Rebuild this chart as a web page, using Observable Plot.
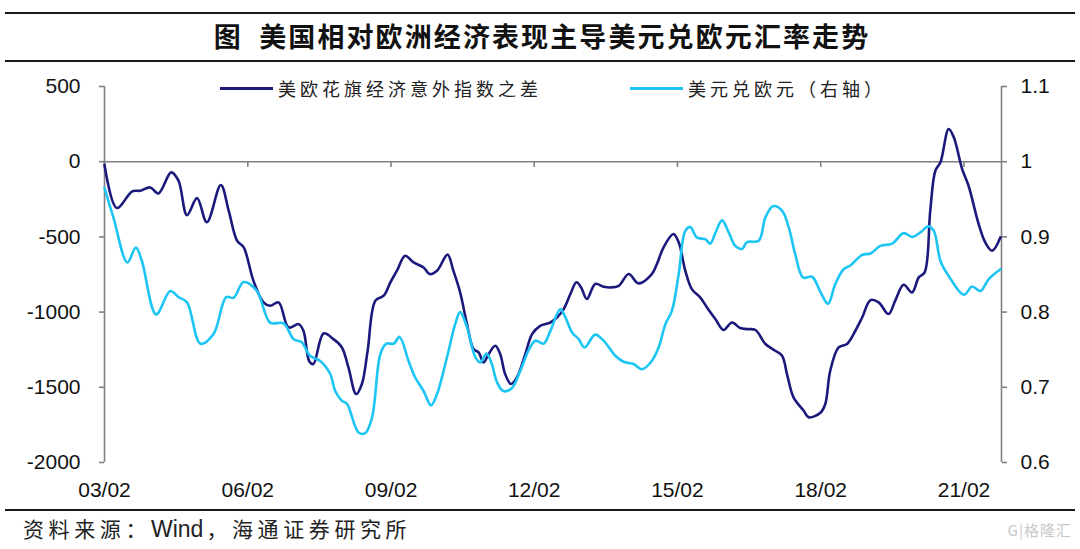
<!DOCTYPE html>
<html>
<head>
<meta charset="utf-8">
<script src="https://cdn.jsdelivr.net/npm/d3@7"></script>
<script src="https://cdn.jsdelivr.net/npm/@observablehq/plot@0.6"></script>
<style>
  html, body { margin: 0; padding: 0; background: #fff; }
  #page { position: relative; width: 1080px; height: 549px; overflow: hidden; font-family: "Noto Sans CJK SC", sans-serif; }
  .rule { position: absolute; left: 5px; right: 5px; height: 2px; background: #1a1a1a; }
  #title { position: absolute; top: 16px; left: 0; width: 1084px; text-align: center; font-weight: 700; font-size: 27px; line-height: 40px; letter-spacing: 2.1px; color: #111; white-space: pre; }
  .leg { position: absolute; top: 76px; height: 24px; display: flex; align-items: center; font-size: 18px; letter-spacing: 4px; color: #222; white-space: nowrap; }
  .leg i { display: inline-block; width: 53px; height: 3px; margin-right: 5px; }
  #chart { position: absolute; left: 0; top: 70px; }
  #source { position: absolute; left: 23px; top: 512px; font-size: 21px; letter-spacing: 4.6px; color: #222; line-height: 32px; white-space: nowrap; }
  #source .lat { font-family: "Liberation Sans", Arial, sans-serif; font-size: 23px; letter-spacing: 0; margin-right: 3px; }
  #mark { position: absolute; right: 8px; top: 519px; font-size: 15px; color: #c8c8c8; letter-spacing: 1px; }
</style>
</head>
<body>
<div id="page">
  <div class="rule" style="top:12px"></div>
  <div id="title">图  美国相对欧洲经济表现主导美元兑欧元汇率走势</div>
  <div class="rule" style="top:60px"></div>
  <div class="leg" style="left:220px"><i style="background:#1b1a7c"></i>美欧花旗经济意外指数之差</div>
  <div class="leg" style="left:630px"><i style="background:#1cc5f4"></i>美元兑欧元（右轴）</div>
  <div id="chart"></div>
  <div class="rule" style="top:509px"></div>
  <div id="source">资料来源：<span class="lat">Wind</span>，海通证券研究所</div>
  <div id="mark">G|格隆汇</div>
</div>
<script>
// 美欧花旗经济意外指数之差 (left axis)
const surpriseDates = [
  "2003-02-01","2003-05-06","2003-09-01","2003-11-01","2004-01-17","2004-03-20","2004-06-25","2004-08-20","2004-10-24",
  "2005-01-09","2005-03-25","2005-07-10","2005-09-08","2005-11-11","2006-01-01","2006-03-16","2006-06-01","2006-07-22",
  "2006-09-25","2006-12-10","2007-02-25","2007-04-03","2007-05-18","2007-06-18","2007-09-04","2007-11-19","2008-01-22",
  "2008-03-12","2008-05-10","2008-06-23","2008-08-06","2008-10-04","2008-12-07","2009-01-27","2009-03-18","2009-05-20",
  "2009-07-23","2009-10-08","2009-11-23","2010-01-19","2010-04-09","2010-05-24","2010-07-15","2010-09-05","2010-10-25",
  "2010-12-03","2011-01-10","2011-02-18","2011-04-09","2011-05-17","2011-06-24","2011-08-07","2011-09-22","2011-11-25",
  "2012-01-16","2012-03-18","2012-06-04","2012-07-24","2012-09-14","2012-11-04","2012-12-20","2013-01-25","2013-03-10",
  "2013-05-13","2013-07-16","2013-09-06","2013-11-09","2014-01-24","2014-04-09","2014-07-20","2014-08-28","2014-10-18",
  "2015-01-01","2015-02-11","2015-04-02","2015-05-22","2015-07-25","2015-09-15","2015-11-18","2016-01-20","2016-03-24",
  "2016-05-26","2016-07-17","2016-09-20","2016-12-05","2017-02-08","2017-04-11","2017-05-19","2017-07-08","2017-09-24",
  "2017-11-02","2018-02-01","2018-03-08","2018-04-15","2018-06-18","2018-08-21","2018-10-24","2018-12-15","2019-02-17",
  "2019-04-20","2019-07-05","2019-08-25","2019-10-28","2020-01-01","2020-02-21","2020-04-06","2020-05-19","2020-06-27",
  "2020-08-05","2020-10-07","2020-11-15","2021-01-18","2021-03-08","2021-05-24","2021-07-14","2021-09-05","2021-11-07"
];
const surpriseDiff = [
  -20,-308,-197,-193,-171,-211,-71,-126,-355,
  -242,-403,-155,-326,-525,-570,-791,-935,-958,
  -935,-1102,-1080,-1124,-1328,-1345,-1142,-1180,-1235,
  -1368,-1545,-1478,-1257,-924,-891,-802,-725,-625,
  -670,-703,-747,-725,-618,-725,-870,-1080,-1246,
  -1268,-1335,-1279,-1224,-1279,-1412,-1478,-1434,-1279,
  -1146,-1091,-1069,-1036,-980,-880,-802,-836,-913,
  -813,-831,-836,-825,-747,-809,-747,-680,-570,
  -481,-537,-725,-847,-902,-969,-1046,-1119,-1069,
  -1106,-1113,-1119,-1212,-1252,-1290,-1412,-1567,-1656,
  -1700,-1667,-1611,-1390,-1235,-1212,-1124,-1036,-920,
  -935,-1013,-924,-818,-869,-769,-736,-326,-60,
  -4,217,162,-49,-160,-414,-537,-592,-503
];

// 美元兑欧元 (right axis)
const fxDates = [
  "2003-02-01","2003-04-10","2003-07-26","2003-09-29","2003-11-14","2004-03-02","2004-06-18","2004-08-20","2004-10-24",
  "2005-02-04","2005-05-15","2005-08-20","2005-10-15","2006-01-01","2006-04-12","2006-07-22","2006-11-02","2007-01-18",
  "2007-03-21","2007-05-23","2007-08-09","2007-10-24","2007-12-02","2008-01-22","2008-03-01","2008-05-28","2008-07-18",
  "2008-09-09","2008-11-11","2008-12-27","2009-02-22","2009-04-07","2009-06-15","2009-08-05","2009-10-08","2009-12-04",
  "2010-01-19","2010-04-05","2010-06-07","2010-07-15","2010-09-05","2010-11-08","2010-12-16","2011-02-01","2011-03-14",
  "2011-04-22","2011-06-11","2011-08-15","2011-10-18","2011-12-20","2012-02-10","2012-04-13","2012-06-04","2012-08-19",
  "2012-09-27","2012-11-17","2013-01-07","2013-02-20","2013-05-13","2013-07-16","2013-10-14","2013-12-16","2014-03-02",
  "2014-05-05","2014-07-20","2014-09-10","2014-11-01","2014-12-21","2015-02-11","2015-04-02","2015-05-10","2015-07-01",
  "2015-09-02","2015-10-10","2015-11-18","2016-01-08","2016-02-28","2016-04-19","2016-06-09","2016-07-17","2016-10-15",
  "2016-12-05","2017-02-03","2017-04-11","2017-06-01","2017-07-21","2017-09-19","2017-11-27","2018-02-01","2018-03-29",
  "2018-05-23","2018-07-26","2018-09-16","2018-12-15","2019-02-17","2019-05-03","2019-08-01","2019-10-28","2020-01-01",
  "2020-03-05","2020-05-03","2020-06-15","2020-08-05","2020-10-07","2021-02-01","2021-04-04","2021-06-06","2021-08-10",
  "2021-11-07"
];
const usdEur = [
  0.965,0.926,0.866,0.886,0.868,0.797,0.828,0.820,0.813,
  0.758,0.771,0.820,0.819,0.840,0.828,0.786,0.785,0.764,
  0.760,0.742,0.735,0.718,0.695,0.682,0.678,0.640,0.639,
  0.660,0.744,0.758,0.758,0.767,0.735,0.713,0.695,0.676,
  0.691,0.740,0.784,0.800,0.780,0.740,0.733,0.745,0.731,
  0.707,0.695,0.699,0.722,0.749,0.762,0.758,0.775,0.804,
  0.793,0.773,0.764,0.753,0.770,0.762,0.742,0.734,0.731,
  0.724,0.735,0.753,0.784,0.802,0.851,0.908,0.913,0.899,
  0.897,0.891,0.905,0.922,0.906,0.888,0.884,0.893,0.895,
  0.926,0.941,0.935,0.913,0.877,0.846,0.847,0.826,0.811,
  0.837,0.857,0.862,0.876,0.878,0.888,0.891,0.905,0.900,
  0.906,0.914,0.908,0.868,0.848,0.823,0.834,0.828,0.844,
  0.857
];

const leftTicks = [-2000, -1500, -1000, -500, 0, 500];
const rightTicks = [0.6, 0.7, 0.8, 0.9, 1.0, 1.1];
const xTickDates = ["2003-02-01","2006-02-01","2009-02-01","2012-02-01","2015-02-01","2018-02-01","2021-02-01"];
const xDomain = ["2003-02-01", "2021-11-15"];

// Right axis maps onto the left scale: 1.0 ↔ 0, 0.1 ↔ 500
const toLeft = r => (r - 1) * 5000;
const fromLeft = v => String(+(1 + v / 5000).toFixed(2));

const parse = s => new Date(s + "T00:00:00Z");
const surprise = surpriseDates.map((d, i) => ({date: parse(d), value: surpriseDiff[i]}));
const fx = fxDates.map((d, i) => ({date: parse(d), value: usdEur[i]}));
const xTicks = xTickDates.map(parse);
const dom = xDomain.map(parse);

const axisGray = "#808080";

const chart = Plot.plot({
  width: 1080,
  height: 440,
  marginLeft: 104,
  marginRight: 79,
  marginTop: 16,
  marginBottom: 48,
  style: {fontFamily: "'Liberation Sans', Arial, sans-serif", fontSize: "21px", color: "#111", background: "transparent", overflow: "visible"},
  x: {type: "utc", domain: dom},
  y: {domain: [-2000, 500]},
  marks: [
    Plot.ruleY([0], {stroke: axisGray, strokeWidth: 1.6}),
    Plot.ruleX(xTicks, {x: d => d, y1: 0, y2: -38, stroke: axisGray, strokeWidth: 1.6}),
    Plot.ruleX([dom[0], dom[1]], {stroke: axisGray, strokeWidth: 1.6}),
    Plot.axisY({anchor: "left", ticks: leftTicks, tickFormat: d => String(d), tickSize: 5, tickPadding: 19, label: null, stroke: axisGray, strokeWidth: 1.6, fontSize: 21}),
    Plot.axisY({anchor: "right", ticks: rightTicks.map(r => Math.round(toLeft(r))), tickFormat: fromLeft, tickSize: 5, tickPadding: 14, label: null, stroke: axisGray, strokeWidth: 1.6, fontSize: 21}),
    Plot.axisX({anchor: "bottom", ticks: xTicks, tickFormat: d3.utcFormat("%y/%m"), tickSize: 0, tickPadding: 20, label: null, fontSize: 21}),
    Plot.line(surprise, {x: "date", y: "value", stroke: "#1b1a7c", strokeWidth: 2.6, curve: "catmull-rom"}),
    Plot.line(fx, {x: "date", y: d => toLeft(d.value), stroke: "#1cc5f4", strokeWidth: 2.6, curve: "catmull-rom"})
  ]
});
document.getElementById("chart").appendChild(chart);
</script>
</body>
</html>
